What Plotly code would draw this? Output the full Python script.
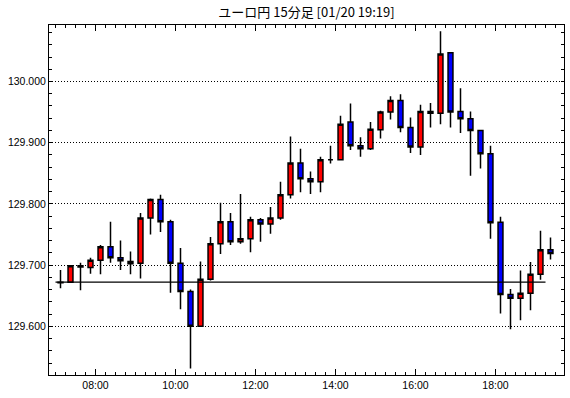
import pandas as pd
import plotly.graph_objects as go

# 15-minute candles, 2022-01-20 07:00 .. 19:15
times = [f"{h:02d}:{m:02d}" for h in range(7, 20) for m in (0, 15, 30, 45)][:50]

opens = [129.672, 129.672, 129.699, 129.696, 129.708, 129.730, 129.712, 129.706, 129.703, 129.777,
         129.807, 129.771, 129.703, 129.657, 129.600, 129.677, 129.735, 129.771, 129.738, 129.743,
         129.774, 129.767, 129.777, 129.815, 129.867, 129.841, 129.836, 129.872, 129.872, 129.934,
         129.895, 129.890, 129.921, 129.950, 129.969, 129.925, 129.893, 129.951, 129.948, 130.047,
         129.951, 129.939, 129.920, 129.882, 129.770, 129.652, 129.646, 129.654, 129.685, 129.725]
highs = [129.692, 129.700, 129.704, 129.712, 129.733, 129.771, 129.740, 129.722, 129.785, 129.809,
         129.815, 129.774, 129.728, 129.660, 129.706, 129.746, 129.802, 129.785, 129.816, 129.779,
         129.777, 129.795, 129.836, 129.910, 129.890, 129.853, 129.877, 129.895, 129.944, 129.964,
         129.909, 129.934, 129.952, 129.976, 129.979, 129.941, 129.962, 129.965, 130.082, 130.047,
         129.989, 129.951, 129.920, 129.895, 129.779, 129.661, 129.691, 129.705, 129.756, 129.745]
lows = [129.662, 129.672, 129.659, 129.686, 129.685, 129.704, 129.692, 129.685, 129.678, 129.750,
        129.754, 129.655, 129.628, 129.531, 129.600, 129.675, 129.718, 129.733, 129.735, 129.721,
        129.738, 129.751, 129.774, 129.809, 129.819, 129.816, 129.819, 129.866, 129.872, 129.888,
        129.877, 129.888, 129.907, 129.938, 129.917, 129.883, 129.880, 129.925, 129.930, 129.925,
        129.916, 129.846, 129.858, 129.743, 129.621, 129.595, 129.610, 129.626, 129.676, 129.709]
closes = [129.671, 129.699, 129.697, 129.708, 129.730, 129.712, 129.707, 129.702, 129.777, 129.807,
          129.771, 129.703, 129.657, 129.600, 129.677, 129.735, 129.771, 129.738, 129.743, 129.774,
          129.767, 129.777, 129.815, 129.867, 129.841, 129.836, 129.872, 129.872, 129.930, 129.895,
          129.890, 129.922, 129.950, 129.969, 129.925, 129.893, 129.951, 129.948, 130.045, 129.950,
          129.939, 129.920, 129.882, 129.769, 129.652, 129.646, 129.654, 129.685, 129.725, 129.719]

day_open = opens[0]
title_text = "ユーロ円 15分足 [01/20 19:19]"
y_ticks = [129.6, 129.7, 129.8, 129.9, 130.0]

DATE = "2022-01-20 "
starts = pd.to_datetime([DATE + t for t in times])
centers = starts + pd.Timedelta(minutes=7.5)

fig = go.Figure()
fig.add_trace(go.Candlestick(
    x=centers, open=opens, high=highs, low=lows, close=closes,
    increasing=dict(fillcolor="#FF0000", line=dict(color="#000000", width=1.5)),
    decreasing=dict(fillcolor="#0000FF", line=dict(color="#000000", width=1.5)),
    whiskerwidth=0, hoverinfo="skip", showlegend=False,
))
fig.add_trace(go.Scatter(
    x=[starts[0], starts[-1]], y=[day_open, day_open], mode="lines",
    line=dict(color="#000000", width=1.2), hoverinfo="skip", showlegend=False,
))

fig.update_layout(
    width=570, height=398,
    margin=dict(l=49, r=6, t=25, b=23),
    paper_bgcolor="white", plot_bgcolor="white",
    title=dict(text=title_text, x=0.5, xref="paper", xanchor="center",
               y=1 - 12.5 / 398, yref="container", yanchor="middle",
               font=dict(family="Noto Sans CJK JP", size=13, color="black")),
    font=dict(family="Liberation Sans", size=10.5, color="black"),
    showlegend=False,
)
fig.update_xaxes(
    type="date",
    range=[pd.Timestamp(DATE + "06:50:15"), pd.Timestamp(DATE + "19:42:45")],
    rangeslider=dict(visible=False),
    tickformat="%H:%M", dtick=7200000, tick0=DATE + "08:00",
    ticks="inside", ticklen=6, tickcolor="black", tickwidth=1,
    minor=dict(dtick=900000, tick0=DATE + "07:00", ticks="inside", ticklen=3, tickcolor="black", showgrid=False),
    showline=True, linecolor="black", linewidth=1, mirror="ticks",
    showgrid=False, zeroline=False,
)
fig.update_yaxes(
    range=[129.5204, 130.0923],
    tickvals=y_ticks, tickformat=".3f",
    ticks="inside", ticklen=3, tickcolor="black", tickwidth=1,
    minor=dict(dtick=0.02, tick0=129.6, ticks="inside", ticklen=3, tickcolor="black", showgrid=False),
    showline=True, linecolor="black", linewidth=1, mirror="ticks",
    showgrid=True, gridcolor="#000000", gridwidth=1, griddash="1px,2px",
    zeroline=False,
)

fig.write_html("out.html")
